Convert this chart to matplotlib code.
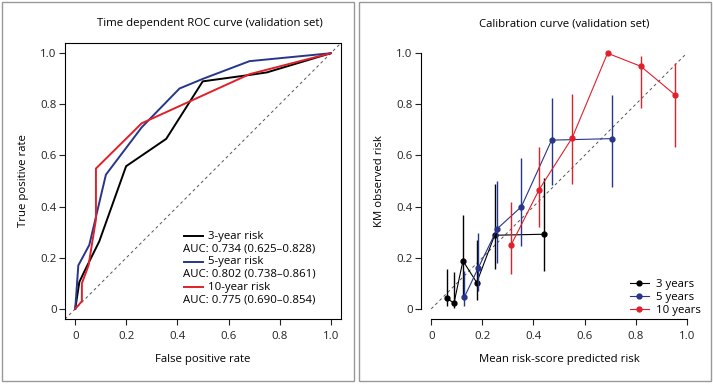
import matplotlib.pyplot as plt
from matplotlib.patches import Rectangle

plt.rcParams['font.family'] = ['Open Sans', 'DejaVu Sans']

# ROC curves (false positive rate, true positive rate)
fpr_3 = [0, 0.016, 0.035, 0.094, 0.199, 0.356, 0.499, 0.682, 0.75, 1.0]
tpr_3 = [0, 0.105, 0.145, 0.264, 0.558, 0.665, 0.89, 0.915, 0.925, 1.0]
fpr_5 = [0, 0.012, 0.055, 0.12, 0.26, 0.408, 0.5, 0.682, 1.0]
tpr_5 = [0, 0.17, 0.25, 0.525, 0.71, 0.862, 0.9, 0.969, 1.0]
fpr_10 = [0, 0.026, 0.026, 0.052, 0.081, 0.081, 0.26, 0.682, 1.0]
tpr_10 = [0, 0.03, 0.1, 0.17, 0.35, 0.549, 0.726, 0.918, 1.0]
roc_labels = ["3-year risk", "5-year risk", "10-year risk"]
auc_labels = ["AUC: 0.734 (0.625\u20130.828)",
              "AUC: 0.802 (0.738\u20130.861)",
              "AUC: 0.775 (0.690\u20130.854)"]

# calibration: predicted, observed, lower, upper
pred_3 = [0.061, 0.089, 0.124, 0.178, 0.248, 0.442]
obs_3 = [0.042, 0.022, 0.188, 0.103, 0.288, 0.292]
lo_3 = [0.012, 0.005, 0.05, 0.035, 0.155, 0.15]
hi_3 = [0.157, 0.143, 0.367, 0.27, 0.49, 0.51]
pred_5 = [0.13, 0.184, 0.259, 0.353, 0.471, 0.708]
obs_5 = [0.047, 0.16, 0.314, 0.4, 0.66, 0.666]
lo_5 = [0.01, 0.07, 0.18, 0.245, 0.485, 0.475]
hi_5 = [0.15, 0.297, 0.5, 0.59, 0.826, 0.838]
pred_10 = [0.312, 0.422, 0.552, 0.69, 0.82, 0.953]
obs_10 = [0.249, 0.466, 0.67, 1.0, 0.949, 0.838]
lo_10 = [0.135, 0.32, 0.49, 1.0, 0.785, 0.635]
hi_10 = [0.42, 0.635, 0.84, 1.0, 0.99, 0.96]
cal_labels = ["3 years", "5 years", "10 years"]

colors = ["black", "#27358a", "#e0202a"]
ticks = [0, 0.2, 0.4, 0.6, 0.8, 1.0]
ticklabels = ["0", "0.2", "0.4", "0.6", "0.8", "1.0"]
FS = 8.2

fig = plt.figure(figsize=(7.13, 3.84), dpi=100)
fig.patches.append(Rectangle((0.003, 0.008), 0.494, 0.986, transform=fig.transFigure,
                             fill=False, edgecolor="#999999", lw=1))
fig.patches.append(Rectangle((0.503, 0.008), 0.494, 0.986, transform=fig.transFigure,
                             fill=False, edgecolor="#999999", lw=1))

ax1 = fig.add_axes([0.0912, 0.169, 0.387, 0.719])
ax2 = fig.add_axes([0.5905, 0.169, 0.387, 0.719])

for ax in (ax1, ax2):
    ax.set_xlim(-0.04, 1.04)
    ax.set_ylim(-0.04, 1.04)
    ax.set_xticks(ticks)
    ax.set_xticklabels(ticklabels)
    ax.set_yticks(ticks)
    ax.set_yticklabels(ticklabels)
    ax.tick_params(labelsize=FS, length=4.5, width=0.8, colors="#222222")
    ax.tick_params(axis="y", pad=1.5)
    ax.tick_params(axis="x", pad=4)
    for s in ax.spines.values():
        s.set_linewidth(0.8)

# left: ROC
ax1.plot([-0.04, 1.04], [-0.04, 1.04], ls=(0, (3, 3)), color="#555555", lw=0.7)
for fx, ty, c in zip([fpr_3, fpr_5, fpr_10], [tpr_3, tpr_5, tpr_10], colors):
    ax1.plot(fx, ty, color=c, lw=1.4)
ax1.set_title("Time dependent ROC curve (validation set)", fontsize=FS, pad=12, x=0.525)
ax1.set_xlabel("False positive rate", fontsize=FS, labelpad=9)
ax1.set_ylabel("True positive rate", fontsize=FS, labelpad=8)

row_y = 0.285
for lab, auc, c in zip(roc_labels, auc_labels, colors):
    ax1.plot([0.427, 0.5], [row_y, row_y], color=c, lw=1.4)
    ax1.text(0.52, row_y, lab, fontsize=FS, va="center", ha="left")
    ax1.text(0.42, row_y - 0.05, auc, fontsize=FS, va="center", ha="left")
    row_y -= 0.1

# right: calibration
ax2.plot([0, 1], [0, 1], ls=(0, (3, 3)), color="#555555", lw=0.7)
handles = []
for px, ob, lo, hi, c, lab in zip([pred_3, pred_5, pred_10], [obs_3, obs_5, obs_10],
                                 [lo_3, lo_5, lo_10], [hi_3, hi_5, hi_10], colors, cal_labels):
    ax2.vlines(px, lo, hi, color=c, lw=1)
    h, = ax2.plot(px, ob, "-o", color=c, lw=0.8, ms=3.5, label=lab)
    handles.append(h)
for s in ["top", "right"]:
    ax2.spines[s].set_visible(False)
ax2.spines["left"].set_bounds(0, 1)
ax2.spines["bottom"].set_bounds(0, 1)
ax2.set_title("Calibration curve (validation set)", fontsize=FS, pad=12, x=0.52)
ax2.set_xlabel("Mean risk-score predicted risk", fontsize=FS, labelpad=9)
ax2.set_ylabel("KM observed risk", fontsize=FS, labelpad=8)
ax2.legend(handles=handles, loc="lower right", frameon=False, fontsize=FS,
           handlelength=1.7, handletextpad=0.6, labelspacing=0.18,
           bbox_to_anchor=(1.03, -0.005), borderaxespad=0.0)

fig.savefig("out.png", dpi=100)
